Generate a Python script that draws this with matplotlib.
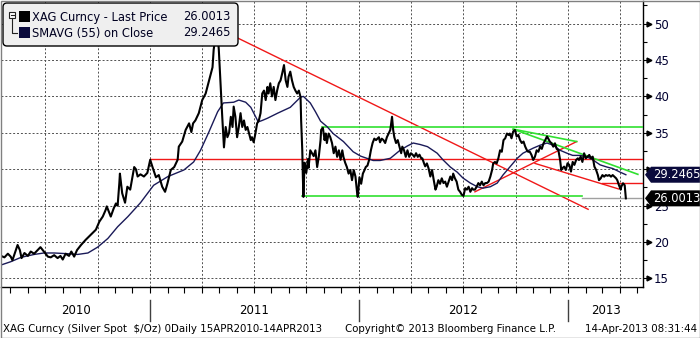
import numpy as np
import pandas as pd
import matplotlib
matplotlib.use("Agg")
import matplotlib.pyplot as plt
import matplotlib.dates as mdates
import matplotlib.transforms as mtransforms
from matplotlib.patches import FancyBboxPatch, Polygon, Rectangle
from matplotlib.lines import Line2D
from matplotlib.ticker import MultipleLocator

W, H = 700, 338
start = pd.Timestamp("2010-04-15")
end_day = 1123

# XAG spot, (days after 15 Apr 2010, close)
price_2010 = [(0, 18.1), (6, 17.9), (12, 18.4), (17, 18.0), (20, 17.5), (26, 18.9), (29, 19.6), (33, 18.9),
              (36, 17.8), (41, 18.5), (47, 18.1), (52, 18.7), (58, 18.4), (64, 18.9), (69, 19.3), (73, 18.9),
              (77, 18.5), (82, 18.0), (87, 17.9), (93, 18.2), (99, 17.8), (104, 18.1), (108, 17.6), (113, 18.4),
              (119, 18.1), (123, 18.7), (128, 18.0), (133, 18.9), (140, 19.6), (148, 20.3), (157, 21.0),
              (166, 21.7), (172, 22.8), (178, 23.5), (183, 24.4), (185, 24.9), (192, 23.5), (197, 24.6),
              (201, 25.3), (204, 25.0), (207, 28.1), (208, 29.4), (212, 26.7), (217, 25.4), (221, 27.6),
              (226, 27.2), (233, 30.3), (236, 30.0), (239, 29.0), (244, 29.3), (250, 29.0), (256, 29.5)]
price_2011 = [(261, 31.3), (265, 30.3), (271, 28.9), (276, 29.2), (282, 27.6), (287, 26.9), (291, 28.0),
              (297, 29.9), (303, 30.3), (309, 31.3), (311, 33.1), (317, 33.8), (323, 35.4), (329, 36.3),
              (333, 35.1), (336, 36.3), (340, 36.7), (346, 37.7), (352, 39.5), (358, 40.4), (364, 42.2),
              (370, 44.0), (372, 46.4), (375, 48.2), (378, 49.4), (381, 46.4), (384, 41.8), (387, 37.2),
              (390, 33.0), (393, 35.8), (396, 34.4), (399, 35.0), (402, 37.2), (405, 35.8), (407, 38.6),
              (410, 37.2), (413, 34.4), (416, 35.8), (419, 37.7), (422, 35.8), (425, 36.7), (428, 35.4),
              (431, 35.8), (434, 34.9), (437, 34.0), (439, 34.4), (442, 33.7), (445, 34.9), (448, 36.3),
              (451, 36.7), (454, 37.7), (457, 40.4), (460, 40.8), (463, 39.5), (466, 41.3), (468, 40.4),
              (471, 41.8), (474, 40.0), (477, 41.3), (480, 39.5), (483, 40.8), (486, 41.8), (489, 42.2),
              (492, 43.2), (495, 44.3), (498, 42.2), (501, 41.3), (503, 42.7), (506, 43.4), (509, 42.2),
              (512, 41.3), (515, 40.8), (518, 40.4), (521, 40.8), (524, 39.9), (525, 36.7), (527, 32.6),
              (528, 28.9), (529, 26.2), (531, 30.9), (534, 29.5), (537, 31.4), (538, 30.2), (541, 32.6),
              (544, 32.2), (547, 31.8), (550, 32.6), (553, 30.3), (556, 31.8), (559, 34.0), (560, 35.4),
              (563, 35.7), (566, 34.0), (568, 34.9), (570, 33.6), (573, 34.9), (576, 34.4), (579, 33.6),
              (582, 32.2), (585, 33.1), (588, 31.7), (591, 32.6), (594, 31.3), (597, 32.6), (599, 31.7),
              (602, 30.9), (605, 30.3), (608, 29.4), (611, 29.9), (614, 28.5), (617, 29.9), (620, 29.0),
              (623, 26.7), (624, 26.2)]
price_2012 = [(627, 28.9), (630, 28.0), (633, 29.4), (636, 29.9), (638, 30.3), (641, 30.5), (644, 31.3),
              (647, 32.6), (650, 33.6), (653, 34.2), (656, 34.0), (661, 34.4), (663, 33.7), (666, 34.2),
              (669, 34.0), (672, 33.6), (675, 34.4), (678, 34.9), (681, 35.4), (684, 37.2), (686, 35.4),
              (688, 34.4), (691, 33.6), (694, 34.0), (697, 33.1), (700, 32.2), (702, 33.1), (705, 32.6),
              (708, 31.7), (711, 32.6), (714, 31.7), (717, 32.2), (720, 32.0), (723, 31.7), (726, 32.2),
              (729, 31.7), (732, 32.0), (735, 31.5), (737, 31.5), (740, 30.8), (742, 30.4), (745, 30.8),
              (748, 30.1), (751, 29.0), (754, 29.9), (757, 28.5), (760, 27.2), (762, 27.6), (765, 28.5),
              (768, 28.0), (771, 28.75), (774, 28.1), (777, 28.3), (780, 27.6), (783, 28.3), (786, 29.0),
              (789, 28.5), (791, 29.4), (794, 28.75), (797, 28.3), (800, 27.2), (803, 26.9), (806, 26.5),
              (809, 26.35), (812, 27.4), (815, 27.2), (818, 27.6), (821, 26.9), (824, 27.4), (826, 27.2),
              (829, 27.2), (832, 27.6), (835, 28.1), (838, 27.8), (841, 28.3), (844, 27.8), (847, 28.1),
              (850, 28.1), (853, 28.3), (856, 29.0), (859, 29.9), (861, 30.8), (864, 31.0), (867, 30.8),
              (870, 31.5), (873, 32.6), (876, 32.4), (879, 34.0), (882, 34.25), (885, 34.9), (888, 34.7),
              (890, 34.9), (893, 34.25), (896, 35.2), (899, 35.4), (902, 34.5), (905, 34.7), (908, 34.0),
              (911, 33.6), (914, 33.8), (917, 33.1), (920, 32.6), (922, 32.4), (925, 32.4), (928, 31.96),
              (931, 31.27), (934, 31.73), (937, 32.6), (940, 32.4), (943, 33.1), (946, 32.8), (949, 33.56),
              (952, 34.0), (955, 34.5), (957, 34.25), (960, 33.8), (963, 33.56), (966, 33.1), (969, 33.56),
              (972, 32.8), (975, 32.6), (978, 31.27), (980, 29.9), (982, 30.13), (985, 30.36), (988, 29.9)]
price_2013 = [(991, 30.82), (994, 30.6), (997, 29.67), (1000, 31.0), (1003, 30.6), (1006, 31.27),
              (1009, 31.5), (1011, 31.27), (1014, 31.73), (1017, 31.0), (1020, 32.19), (1023, 31.5),
              (1026, 31.73), (1029, 31.96), (1032, 31.5), (1035, 31.73), (1038, 30.36), (1041, 29.9),
              (1044, 29.2), (1046, 28.5), (1049, 28.75), (1052, 29.2), (1055, 28.98), (1058, 29.2),
              (1061, 29.1), (1064, 29.2), (1067, 28.98), (1070, 29.2), (1073, 28.98), (1076, 28.75),
              (1078, 28.5), (1081, 27.8), (1084, 27.2), (1085, 27.6), (1088, 28.07), (1091, 27.8),
              (1093, 26.0013)]

# 55-day simple moving average
sma_points = [(0, 16.85), (17, 17.3), (35, 17.9), (58, 18.3), (75, 18.5), (93, 18.5), (117, 18.4),
              (134, 18.3), (152, 18.5), (169, 19.3), (187, 20.5), (204, 22.1), (222, 23.5), (244, 25.4),
              (267, 27.8), (292, 29.0), (320, 29.9), (337, 31.0), (349, 32.6), (363, 35.0), (379, 37.9),
              (389, 39.1), (407, 39.2), (416, 39.5), (428, 39.2), (437, 38.5), (450, 36.5), (457, 36.7),
              (466, 37.0), (484, 37.7), (506, 38.5), (524, 39.9), (529, 40.0), (541, 39.1), (550, 37.9),
              (559, 36.6), (571, 35.8), (581, 34.9), (599, 33.8), (616, 32.4), (629, 31.8), (651, 31.2),
              (663, 31.2), (681, 31.5), (698, 32.6), (711, 33.2), (721, 33.6), (733, 33.4), (746, 33.1),
              (763, 32.2), (773, 31.3), (786, 30.3), (798, 29.6), (808, 28.8), (821, 28.1), (833, 27.6),
              (843, 27.4), (856, 27.6), (868, 28.1), (878, 29.2), (890, 30.3), (903, 31.5), (913, 32.2),
              (931, 32.9), (943, 33.3), (955, 33.6), (966, 33.3), (978, 32.6), (990, 32.2), (1000, 31.9),
              (1013, 31.9), (1025, 31.7), (1035, 31.3), (1048, 30.6), (1060, 30.3), (1070, 30.1),
              (1083, 29.6), (1093, 29.2465)]

last_price = 26.0013
last_sma = 29.2465

# trend lines: (day0, level0, day1, level1)
red_lines = [(378, 49.4, 1027, 24.5),
             (829, 26.9, 1007, 33.8),
             (934, 30.8, 1080, 27.3),
             (261, 31.4, end_day, 31.4),
             (1051, 28.07, end_day, 28.07)]
green_lines = [(562, 35.76, end_day, 35.76),
               (527, 26.3, 1016, 26.3),
               (896, 35.5, 1007, 33.8),
               (896, 35.5, 1114, 29.3)]

y_ticks = [15, 20, 25, 30, 35, 40, 45, 50]
# the 30 label sits under the SMA tag
y_labels = ["15", "20", "25", "", "35", "40", "45", "50"]
years = [2010, 2011, 2012, 2013]


def to_dates(days):
    return start + pd.to_timedelta(np.asarray(days, dtype=float), unit="D")


price_pts = price_2010 + price_2011 + price_2012 + price_2013
p_days, p_vals = zip(*price_pts)
s_days, s_vals = zip(*sma_points)

fig = plt.figure(figsize=(W / 100, H / 100), dpi=100)
fig.patch.set_facecolor("white")
ax = fig.add_axes([1 / W, 1 - 287 / H, 642 / W, 286 / H])
ax.set_facecolor("white")

grid_col = "#505050"
ax.grid(True, which="major", axis="both", color=grid_col, lw=0.7, ls=(0, (2, 2)))

for d0, v0, d1, v1 in red_lines:
    ax.plot(to_dates([d0, d1]), [v0, v1], color="#f01818", lw=1.0, zorder=3)
for d0, v0, d1, v1 in green_lines:
    ax.plot(to_dates([d0, d1]), [v0, v1], color="#30e030", lw=1.2, zorder=3)
ax.plot(to_dates([1016, end_day]), [last_price, last_price], color="#a0a0a0", lw=1.0, zorder=3)

ax.plot(to_dates(s_days), s_vals, color="#1a1a58", lw=1.0, zorder=4)
ax.plot(to_dates(p_days), p_vals, color="black", lw=1.5, zorder=5)

ax.set_xlim(start, start + pd.Timedelta(days=end_day))
ax.set_ylim(13.83, 53.1)

ax.xaxis.set_major_locator(mdates.MonthLocator(bymonth=[1, 4, 7, 10]))
ax.xaxis.set_minor_locator(mdates.MonthLocator())
ax.xaxis.set_major_formatter(plt.NullFormatter())
ax.tick_params(axis="x", which="both", direction="out", length=4, width=0.8, color="black")

ax.yaxis.tick_right()
ax.yaxis.set_minor_locator(MultipleLocator(2.5))
ax.set_yticks(y_ticks)
ax.set_yticklabels(y_labels)
ax.tick_params(axis="y", which="major", direction="out", length=4, width=0.8, pad=4,
               labelsize=8.5, labelcolor="#000030", color="black")
ax.tick_params(axis="y", which="minor", direction="out", length=3, width=0.8, color="black")

for s in ["left", "top"]:
    ax.spines[s].set_visible(False)
for s in ["right", "bottom"]:
    ax.spines[s].set_color("black")
    ax.spines[s].set_linewidth(1.0)

# arrow heads on the value ticks
trans_yr = mtransforms.blended_transform_factory(ax.transAxes, ax.transData)
ax.plot([1.009] * len(y_ticks), y_ticks, ls="none", marker=">", ms=3.5, color="black",
        transform=trans_yr, clip_on=False)

# year labels and separators
trans_xb = mtransforms.blended_transform_factory(ax.transData, ax.transAxes)
bounds = [start] + [pd.Timestamp(f"{y}-01-01") for y in years[1:]] + [start + pd.Timedelta(days=end_day)]
for i, y in enumerate(years):
    mid = bounds[i] + (bounds[i + 1] - bounds[i]) / 2
    ax.text(mid, -0.083, str(y), transform=trans_xb, ha="center", va="center", fontsize=8.5,
            color="black")
for b in bounds[1:-1]:
    ax.add_line(Line2D([mdates.date2num(b)] * 2, [-0.045, -0.12], transform=trans_xb, color="#404040",
                       lw=1.0, clip_on=False))

ident = mtransforms.IdentityTransform()


def top(y):
    return H - y


# value tags on the right
def value_tag(val, face):
    yd = ax.transData.transform((0, val))[1]
    x0 = ax.transAxes.transform((1, 0))[0] + 2
    h = 8
    pts = [(x0, yd), (x0 + 6, yd + h), (W, yd + h), (W, yd - h), (x0 + 6, yd - h)]
    fig.add_artist(Polygon(pts, closed=True, transform=ident, fc=face, ec="none", zorder=5))
    fig.text(x0 + 8, yd, f"{val:.4f}", transform=ident, color="white", ha="left", va="center",
             fontsize=8.3, zorder=6)


value_tag(last_sma, "#0a0a3c")
value_tag(last_price, "black")

# legend box
fig.add_artist(FancyBboxPatch((3, top(46)), 235, 43, boxstyle="round,pad=0,rounding_size=4",
                              transform=ident, fc="#efefef", ec="black", lw=1.0, zorder=5))
fig.add_artist(Rectangle((9, top(18)), 6, 6, transform=ident, fc="white", ec="#202020", lw=0.8, zorder=6))
fig.add_artist(Line2D([10.5, 13.5], [top(15), top(15)], transform=ident, color="#202020", lw=0.8, zorder=7))
fig.add_artist(Line2D([12, 12, 17], [top(18), top(33), top(33)], transform=ident, color="#202020",
                      lw=0.8, zorder=6))
fig.add_artist(Rectangle((19, top(22)), 11, 11, transform=ident, fc="black", ec="none", zorder=6))
fig.add_artist(Rectangle((19, top(38)), 11, 11, transform=ident, fc="#0a0a3c", ec="none", zorder=6))
leg_font = dict(fontsize=8.3, color="#000020", va="center", transform=ident, zorder=7)
fig.text(32, top(17), "XAG Curncy - Last Price", ha="left", **leg_font)
fig.text(231, top(17), f"{last_price:.4f}", ha="right", **leg_font)
fig.text(32, top(33), "SMAVG (55) on Close", ha="left", **leg_font)
fig.text(231, top(33), f"{last_sma:.4f}", ha="right", **leg_font)

# footer
foot = dict(fontsize=7.4, color="black", va="center", transform=ident)
fig.text(3, top(329), "XAG Curncy (Silver Spot  $/Oz) 0Daily 15APR2010-14APR2013", ha="left", **foot)
fig.text(345, top(329), "Copyright\u00a9 2013 Bloomberg Finance L.P.", ha="left", **foot)
fig.text(697, top(329), "14-Apr-2013 08:31:44", ha="right", **foot)

# outer frame
fig.add_artist(Rectangle((0.5, 0.5), W - 1, H - 1, transform=ident, fc="none", ec="#808080", lw=1.0,
                         zorder=10))

fig.savefig("out.png", dpi=100, facecolor="white")
